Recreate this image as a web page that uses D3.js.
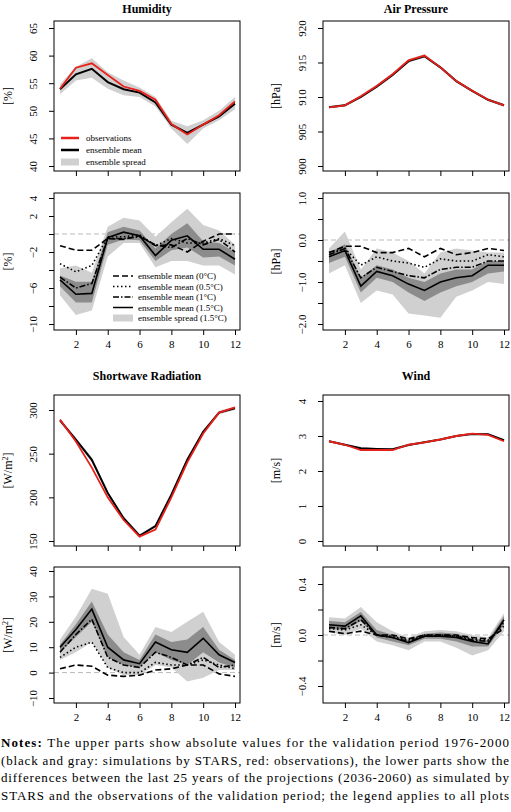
<!DOCTYPE html>
<html>
<head>
<meta charset="utf-8">
<script src="https://cdn.jsdelivr.net/npm/d3@7"></script>
<style>
  body { margin: 0; background: #fff; }
  svg text { font-family: "Liberation Serif", "DejaVu Serif", serif; fill: #000; }
</style>
</head>
<body>
<div id="chart"></div>
<script>
const months = [1, 2, 3, 4, 5, 6, 7, 8, 9, 10, 11, 12];

// Humidity
const humObs = [54, 57.8, 58.6, 56.5, 54.4, 53.6, 52, 47.6, 45.7, 47.5, 49.2, 51.7];
const humMean = [53.9, 56.6, 57.6, 55.2, 53.9, 53.3, 51.5, 47.5, 46.0, 47.5, 49.0, 51.3];
const humLo = [53, 55.5, 56, 54, 52.8, 52.5, 50.8, 46.8, 44, 46.8, 48.3, 50.3];
const humHi = [54.8, 58, 59.5, 57, 55.5, 54.2, 52.5, 48.2, 47.2, 48.3, 50, 52.5];
const humD0 = [-1.3, -1.8, -1.8, -0.5, -0.6, -0.2, -1.3, -1.2, -2.0, -0.8, 0.0, 0.0];
const humD05 = [-3.3, -4.2, -3.5, -0.3, -0.3, -0.1, -1.3, -0.5, -1.0, -1.0, -0.5, -1.3];
const humD1 = [-4.8, -6.0, -5.5, -0.5, -0.5, -0.3, -1.2, -1.5, -0.5, -1.2, -0.6, -2.0];
const humD15 = [-5.1, -6.7, -6.6, -0.4, 0.2, -0.2, -2.4, -0.7, -0.2, -1.7, -1.7, -2.8];
const humOutLo = [-6.8, -9.0, -8.5, -2.5, -1.0, -1.0, -3.7, -3.0, -3.0, -3.5, -3.5, -4.5];
const humOutHi = [-3.8, -3.5, -4.3, 0.8, 1.8, 1.5, -0.3, 1.3, 2.8, 1, 0.4, -1.2];
const humInLo = [-5.8, -7.6, -7.6, -1.2, -0.6, -0.7, -3.0, -1.8, -1.5, -2.6, -2.5, -3.5];
const humInHi = [-4.6, -5.3, -5.3, 0.2, 0.8, 0.4, -1.6, 0, 1.2, -0.8, -1.0, -2.0];

// Air pressure
const apObs = [908.5, 908.8, 910.1, 911.6, 913.3, 915.3, 916.0, 914.3, 912.3, 910.9, 909.6, 908.8];
const apMean = [908.5, 908.8, 910.0, 911.5, 913.2, 915.2, 915.9, 914.3, 912.3, 910.9, 909.6, 908.8];
const apLo = [908.4, 908.6, 909.8, 911.3, 913.0, 915.0, 915.7, 914.1, 912.1, 910.7, 909.4, 908.6];
const apHi = [908.7, 909.0, 910.3, 911.8, 913.5, 915.5, 916.2, 914.5, 912.5, 911.1, 909.8, 909.0];
const apD0 = [-0.3, -0.15, -0.15, -0.3, -0.3, -0.2, -0.4, -0.2, -0.35, -0.3, -0.2, -0.25];
const apD05 = [-0.3, -0.2, -0.6, -0.4, -0.5, -0.55, -0.65, -0.45, -0.5, -0.5, -0.35, -0.4];
const apD1 = [-0.35, -0.2, -0.9, -0.65, -0.75, -0.85, -0.9, -0.7, -0.65, -0.65, -0.5, -0.5];
const apD15 = [-0.4, -0.25, -1.1, -0.75, -0.85, -1.05, -1.2, -1.0, -0.9, -0.85, -0.6, -0.6];
const apOutLo = [-0.8, -0.6, -1.5, -1.2, -1.3, -1.75, -1.8, -1.85, -1.35, -1.2, -1.0, -1.05];
const apOutHi = [-0.2, 0.2, -0.7, -0.2, -0.3, -0.5, -0.8, -0.3, -0.2, -0.25, -0.3, -0.3];
const apInLo = [-0.55, -0.4, -1.25, -0.9, -1.0, -1.25, -1.45, -1.25, -1.1, -1.0, -0.8, -0.75];
const apInHi = [-0.3, -0.1, -0.9, -0.6, -0.7, -0.9, -1.0, -0.8, -0.7, -0.7, -0.5, -0.5];

// Shortwave radiation
const swObs = [289, 264, 234, 200, 174, 155, 163, 200, 240, 273, 297, 303];
const swMean = [288, 266, 243, 205, 176, 156, 167, 203, 243, 275, 297, 302];
const swLo = [286, 264, 240, 203, 174, 155, 165, 201, 241, 273, 295, 300];
const swHi = [290, 268, 246, 207, 178, 158, 169, 205, 245, 277, 299, 304];
const swD0 = [1.5, 3, 2.5, -1, -1.5, -1, 1, 1.5, 3, 3, -0.5, -1.5];
const swD05 = [6, 10, 12, 2, 0, 0, 4, 3, 3, 5, 3, 1.5];
const swD1 = [8, 15, 21, 6, 3, 2, 8, 6, 3, 6, 2, 3];
const swD15 = [10, 17, 25, 10, 5, 3.5, 12, 9, 8, 13.5, 7, 4];
const swOutLo = [5, 8, 12, 2, -1, -1, 3, 2, -3.5, -2, 1, 1];
const swOutHi = [13, 22, 33, 31, 14, 7, 18, 16, 20, 24, 12, 7];
const swInLo = [8, 14, 20, 6, 3, 2, 8, 5, 3, 8, 4, 2];
const swInHi = [11, 19, 28, 15, 8, 5, 15, 12, 13, 18, 9, 5];

// Wind
const wObs = [2.85, 2.75, 2.6, 2.6, 2.6, 2.75, 2.82, 2.9, 3.0, 3.07, 3.03, 2.85];
const wMean = [2.85, 2.75, 2.65, 2.63, 2.62, 2.74, 2.82, 2.9, 3.0, 3.06, 3.05, 2.88];
const wLo = [2.83, 2.73, 2.62, 2.6, 2.6, 2.72, 2.8, 2.88, 2.98, 3.04, 3.03, 2.85];
const wHi = [2.87, 2.77, 2.68, 2.66, 2.64, 2.76, 2.84, 2.92, 3.02, 3.08, 3.07, 2.9];
const wD0 = [0.03, 0.01, 0.03, 0.0, 0.0, -0.03, 0.0, 0.0, 0.0, -0.02, -0.03, 0.05];
const wD05 = [0.05, 0.04, 0.08, 0.0, -0.01, -0.04, 0, 0, -0.01, -0.03, -0.04, 0.07];
const wD1 = [0.06, 0.05, 0.12, 0.0, -0.02, -0.05, -0.01, 0, -0.01, -0.04, -0.05, 0.1];
const wD15 = [0.08, 0.07, 0.15, 0.0, -0.02, -0.06, -0.01, -0.01, -0.02, -0.05, -0.07, 0.12];
const wOutLo = [0.02, 0.0, 0.05, -0.05, -0.08, -0.12, -0.05, -0.05, -0.1, -0.16, -0.12, 0.03];
const wOutHi = [0.14, 0.13, 0.22, 0.1, 0.03, -0.02, 0.03, 0.04, 0.03, 0.0, -0.02, 0.17];
const wInLo = [0.05, 0.04, 0.11, -0.02, -0.05, -0.08, -0.03, -0.03, -0.05, -0.09, -0.09, 0.08];
const wInHi = [0.11, 0.1, 0.18, 0.04, 0.0, -0.04, 0.01, 0.02, 0.01, -0.03, -0.04, 0.15];

const xTicks = [2, 4, 6, 8, 10, 12];

const svg = d3.select('#chart').append('svg')
  .attr('width', 511).attr('height', 812);

// column geometry
const cols = [{x1: 60, x12: 235, yl: 12, tl: 33}, {x1: 329, x12: 504, yl: 280, tl: 302}];

function panel(col, box, yDom, yRng, ticks, labels, unit, opts) {
  const c = cols[col];
  const x = d3.scaleLinear().domain([1, 12]).range([c.x1, c.x12]);
  const y = d3.scaleLinear().domain(yDom).range(yRng);
  const bx0 = c.x1 - 6, bx1 = c.x12 + 5;
  const g = svg.append('g');
  const clip = 'clip' + col + '_' + box[0];
  g.append('clipPath').attr('id', clip).append('rect')
    .attr('x', bx0).attr('y', box[0]).attr('width', bx1 - bx0).attr('height', box[1] - box[0]);
  const p = g.append('g').attr('clip-path', `url(#${clip})`);

  const area = (lo, hi) => d3.area().x((d, i) => x(months[i])).y0((d, i) => y(lo[i])).y1((d, i) => y(hi[i]))(lo);
  const line = v => d3.line().x((d, i) => x(months[i])).y(d => y(d))(v);

  if (opts.zero) {
    p.append('line').attr('x1', bx0).attr('x2', bx1).attr('y1', y(0)).attr('y2', y(0))
      .attr('stroke', '#bbb').attr('stroke-dasharray', '5,3').attr('stroke-width', 1);
  }
  p.append('path').attr('d', area(opts.outLo, opts.outHi)).attr('fill', '#d0d0d0');
  if (opts.inLo) p.append('path').attr('d', area(opts.inLo, opts.inHi)).attr('fill', '#8c8c8c');
  (opts.lines || []).forEach(l => {
    p.append('path').attr('d', line(l.v)).attr('fill', 'none')
      .attr('stroke', l.color || '#000').attr('stroke-width', l.w || 1.6)
      .attr('stroke-dasharray', l.dash || null);
  });

  g.append('rect').attr('x', bx0).attr('y', box[0]).attr('width', bx1 - bx0).attr('height', box[1] - box[0])
    .attr('fill', 'none').attr('stroke', '#000').attr('stroke-width', 1);

  // y axis, labels parallel to the axis
  const ya = g.append('g').attr('transform', `translate(${bx0},0)`)
    .call(d3.axisLeft(y).tickValues(ticks).tickSize(5).tickFormat(d => labels.includes(d) ? opts.fmt(d) : ''));
  ya.select('.domain').remove();
  ya.selectAll('text')
    .attr('x', 0).attr('y', 0).attr('dy', '0.35em')
    .attr('transform', `translate(${c.tl - bx0},0) rotate(-90)`)
    .attr('text-anchor', 'middle').attr('font-size', 11);

  // x axis
  const xa = g.append('g').attr('transform', `translate(0,${box[1]})`)
    .call(d3.axisBottom(x).tickValues(xTicks).tickSize(5).tickFormat(opts.xlab ? d3.format('d') : ''));
  xa.select('.domain').remove();
  xa.selectAll('text').attr('font-size', 11).attr('dy', '0.9em');

  // unit label
  const ut = g.append('text').attr('transform', `translate(${c.yl},${(box[0] + box[1]) / 2}) rotate(-90)`)
    .attr('text-anchor', 'middle').attr('font-size', 12);
  unit(ut);
}

const fmtInt = d3.format('d');
const fmt1 = d3.format('.1f');
const obsLines = (obs, mean) => [{v: mean, color: '#000', w: 2}, {v: obs, color: '#e8201a', w: 1.8}];
const diffLines = (a, b, c, d) => [
  {v: a, dash: '6,3'}, {v: b, dash: '1.5,2.5'}, {v: c, dash: '6,2,1.5,2'}, {v: d}
];
const simpleUnit = s => t => t.text(s);
const wm2 = t => { t.append('tspan').text('[W/m'); t.append('tspan').attr('font-size', 8).attr('dy', -4).text('2'); t.append('tspan').attr('dy', 4).text(']'); };

// titles
const titles = [['Humidity', 147, 13], ['Air Pressure', 416, 13], ['Shortwave Radiation', 147, 380], ['Wind', 416, 380]];
svg.selectAll('text.title').data(titles).join('text').attr('class', 'title')
  .attr('x', d => d[1]).attr('y', d => d[2]).attr('text-anchor', 'middle')
  .attr('font-weight', 'bold').attr('font-size', 12).text(d => d[0]);

panel(0, [21, 171], [40, 65], [166, 28], [40, 45, 50, 55, 60, 65], [40, 45, 50, 55, 60, 65], simpleUnit('[%]'),
  {fmt: fmtInt, outLo: humLo, outHi: humHi, lines: obsLines(humObs, humMean)});
panel(0, [193, 330], [-10, 4], [324, 198], [4, 2, 0, -2, -4, -6, -8, -10], [4, 2, -2, -6, -10], simpleUnit('[%]'),
  {fmt: fmtInt, zero: true, xlab: true, outLo: humOutLo, outHi: humOutHi, inLo: humInLo, inHi: humInHi,
   lines: diffLines(humD0, humD05, humD1, humD15)});
panel(1, [21, 171], [900, 920], [166, 28], [900, 905, 910, 915, 920], [900, 905, 910, 915, 920], simpleUnit('[hPa]'),
  {fmt: fmtInt, outLo: apLo, outHi: apHi, lines: obsLines(apObs, apMean)});
panel(1, [193, 330], [-2, 1], [324, 198], [1, 0.5, 0, -0.5, -1, -1.5, -2], [1, 0, -1, -2], simpleUnit('[hPa]'),
  {fmt: fmt1, zero: true, xlab: true, outLo: apOutLo, outHi: apOutHi, inLo: apInLo, inHi: apInHi,
   lines: diffLines(apD0, apD05, apD1, apD15)});
panel(0, [395, 546], [150, 300], [541, 410], [150, 200, 250, 300], [150, 200, 250, 300], wm2,
  {fmt: fmtInt, outLo: swLo, outHi: swHi, lines: obsLines(swObs, swMean)});
panel(0, [567, 703], [-10, 40], [698, 571], [40, 30, 20, 10, 0, -10], [40, 30, 20, 10, 0, -10], wm2,
  {fmt: fmtInt, zero: true, xlab: true, outLo: swOutLo, outHi: swOutHi, inLo: swInLo, inHi: swInHi,
   lines: diffLines(swD0, swD05, swD1, swD15)});
panel(1, [395, 546], [0, 4], [541, 401], [0, 1, 2, 3, 4], [0, 1, 2, 3, 4], simpleUnit('[m/s]'),
  {fmt: fmtInt, outLo: wLo, outHi: wHi, lines: obsLines(wObs, wMean)});
panel(1, [567, 703], [-0.4, 0.4], [686, 584], [0.4, 0.2, 0, -0.2, -0.4], [0.4, 0, -0.4], simpleUnit('[m/s]'),
  {fmt: fmt1, zero: true, xlab: true, outLo: wOutLo, outHi: wOutHi, inLo: wInLo, inHi: wInHi,
   lines: diffLines(wD0, wD05, wD1, wD15)});

// legends
const legTop = [
  {label: 'observations', color: '#e8201a', w: 2.5},
  {label: 'ensemble mean', color: '#000', w: 2.5},
  {label: 'ensemble spread', color: '#d0d0d0', w: 7}
];
legTop.forEach((d, i) => {
  const yy = 138 + i * 12;
  svg.append('line').attr('x1', 61).attr('x2', 79).attr('y1', yy).attr('y2', yy)
    .attr('stroke', d.color).attr('stroke-width', d.w);
  svg.append('text').attr('x', 86).attr('y', yy + 3).attr('font-size', 9).text(d.label);
});
const legBot = [
  {label: 'ensemble mean (0\u00b0C)', dash: '6,3'},
  {label: 'ensemble mean (0.5\u00b0C)', dash: '1.5,2.5'},
  {label: 'ensemble mean (1\u00b0C)', dash: '6,2,1.5,2'},
  {label: 'ensemble mean (1.5\u00b0C)'},
  {label: 'ensemble spread (1.5\u00b0C)', color: '#d0d0d0', w: 7}
];
legBot.forEach((d, i) => {
  const yy = 276 + i * 10.5;
  svg.append('line').attr('x1', 113).attr('x2', 133).attr('y1', yy).attr('y2', yy)
    .attr('stroke', d.color || '#000').attr('stroke-width', d.w || 1.5).attr('stroke-dasharray', d.dash || null);
  svg.append('text').attr('x', 138).attr('y', yy + 3).attr('font-size', 9).text(d.label);
});

// notes
const notes = [
  'The upper parts show absolute values for the validation period 1976-2000',
  '(black and gray: simulations by STARS, red: observations), the lower parts show the',
  'differences between the last 25 years of the projections (2036-2060) as simulated by',
  'STARS and the observations of the validation period; the legend applies to all plots'
];
notes.forEach((s, i) => {
  const t = svg.append('text').attr('x', 1).attr('y', 747 + i * 17.5).attr('font-size', 13)
    .attr('textLength', 508).attr('lengthAdjust', 'spacing');
  if (i === 0) t.append('tspan').attr('font-weight', 'bold').text('Notes: ');
  t.append('tspan').text(s);
});
</script>
</body>
</html>
